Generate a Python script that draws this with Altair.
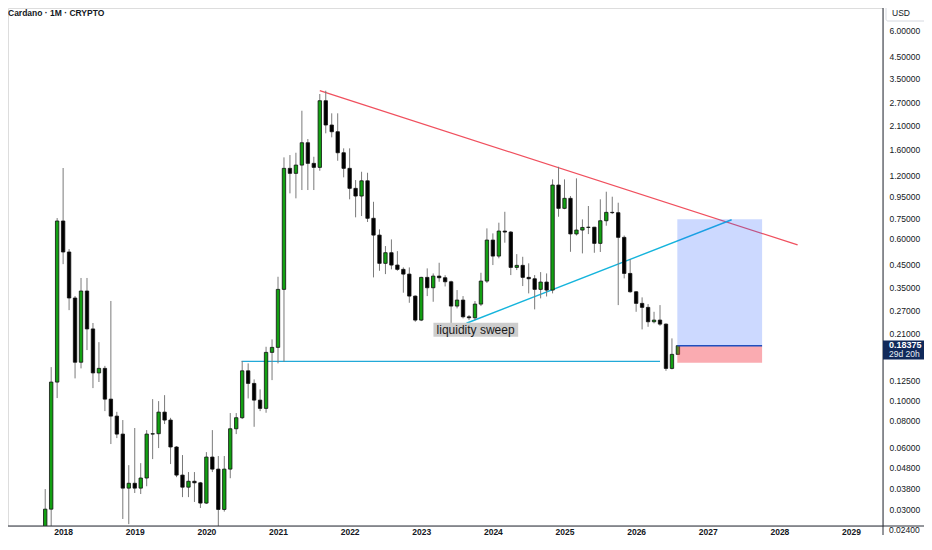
import altair as alt
import pandas as pd

# ---------------- data (monthly candles, first candle Oct 2017) ----------------
first_month = "2017-10-01"
opens = [0.0230, 0.0302, 0.1229, 0.728, 0.517, 0.311, 0.153, 0.336, 0.221, 0.136,
         0.143, 0.1018, 0.0844, 0.0692, 0.0381, 0.0402, 0.0381, 0.0426, 0.0692, 0.0695,
         0.0882, 0.0808, 0.0600, 0.0440, 0.0385, 0.0411, 0.0404, 0.0323, 0.0537, 0.0470,
         0.0301, 0.0470, 0.0734, 0.0829, 0.1392, 0.1211, 0.1007, 0.0919, 0.1706, 0.1803,
         0.3421, 1.302, 1.232, 1.350, 1.728, 1.376, 1.316, 2.748, 2.101, 1.951,
         1.547, 1.302, 1.044, 0.959, 1.135, 0.750, 0.623, 0.456, 0.513, 0.4475,
         0.4267, 0.405, 0.3177, 0.2437, 0.3906, 0.3483, 0.3962, 0.389, 0.3721, 0.2845,
         0.304, 0.2527, 0.250, 0.2908, 0.375, 0.5898, 0.4942, 0.6515, 0.6443, 0.436,
         0.446, 0.3906, 0.3847, 0.3421, 0.3709, 0.3395, 1.083, 0.837, 0.935, 0.631,
         0.6587, 0.678, 0.680, 0.5686, 0.730, 0.801, 0.798, 0.6076, 0.408, 0.3332,
         0.2931, 0.2804, 0.2392, 0.2437, 0.2331, 0.1429, 0.1669]
highs = [0.0377, 0.145, 0.752, 1.307, 0.534, 0.318, 0.388, 0.388, 0.236, 0.191,
         0.147, 0.301, 0.0885, 0.0808, 0.0491, 0.0740, 0.0502, 0.0723, 0.1018, 0.0996,
         0.1064, 0.0828, 0.0606, 0.0549, 0.0455, 0.0455, 0.0408, 0.0567, 0.0723, 0.0543,
         0.0543, 0.0873, 0.0873, 0.155, 0.1511, 0.1266, 0.1134, 0.1815, 0.1969, 0.3933,
         1.470, 1.508, 1.547, 2.460, 1.80, 1.480, 2.959, 3.069, 2.391, 2.391,
         1.624, 1.624, 1.144, 1.254, 1.240, 0.900, 0.664, 0.552, 0.594, 0.522,
         0.436, 0.436, 0.320, 0.393, 0.4314, 0.408, 0.459, 0.400, 0.3766, 0.3395,
         0.3177, 0.2576, 0.3007, 0.411, 0.671, 0.635, 0.7145, 0.806, 0.6515, 0.505,
         0.4903, 0.456, 0.4006, 0.4141, 0.408, 1.153, 1.325, 1.153, 0.959, 1.166,
         0.741, 0.859, 0.682, 0.925, 1.006, 0.952, 0.891, 0.620, 0.4766, 0.336,
         0.3132, 0.2908, 0.2671, 0.2876, 0.235, 0.1991, 0.1850]
lows = [0.0200, 0.0238, 0.103, 0.452, 0.272, 0.128, 0.143, 0.175, 0.115, 0.123,
        0.0892, 0.0620, 0.0662, 0.0271, 0.0256, 0.0361, 0.0357, 0.0389, 0.0525, 0.0593,
        0.0773, 0.0497, 0.0430, 0.0345, 0.0345, 0.0327, 0.0306, 0.0320, 0.0455, 0.0243,
        0.0294, 0.0425, 0.0692, 0.0817, 0.1026, 0.0750, 0.0892, 0.0876, 0.1256, 0.1511,
        0.1538, 0.988, 0.935, 1.025, 1.025, 1.025, 1.268, 1.917, 1.834, 1.416,
        1.179, 0.925, 0.758, 0.769, 0.720, 0.3906, 0.420, 0.405, 0.4267, 0.420,
        0.3297, 0.295, 0.2392, 0.241, 0.3177, 0.2984, 0.3721, 0.3533, 0.235, 0.2773,
        0.2483, 0.2437, 0.2437, 0.2845, 0.367, 0.4475, 0.482, 0.5728, 0.4006, 0.4234,
        0.3549, 0.3273, 0.2743, 0.3097, 0.3163, 0.3273, 0.763, 0.829, 0.518, 0.620,
        0.509, 0.630, 0.5126, 0.517, 0.691, 0.786, 0.2876, 0.3863, 0.3297, 0.2671,
        0.2199, 0.2263, 0.235, 0.2288, 0.1392, 0.1414, 0.1660]
closes = [0.0302, 0.1229, 0.728, 0.517, 0.311, 0.153, 0.336, 0.221, 0.136, 0.143,
          0.1018, 0.0844, 0.0692, 0.0381, 0.0402, 0.0381, 0.0426, 0.0692, 0.0695, 0.0882,
          0.0808, 0.0600, 0.0440, 0.0385, 0.0411, 0.0404, 0.0323, 0.0537, 0.0470, 0.0301,
          0.0470, 0.0734, 0.0829, 0.1392, 0.1211, 0.1007, 0.0919, 0.1706, 0.1803, 0.3421,
          1.302, 1.232, 1.350, 1.728, 1.376, 1.316, 2.748, 2.101, 1.951, 1.547,
          1.302, 1.044, 0.959, 1.135, 0.750, 0.623, 0.456, 0.513, 0.4475, 0.4267,
          0.405, 0.3177, 0.2437, 0.3906, 0.3483, 0.3962, 0.389, 0.3721, 0.2845, 0.304,
          0.2527, 0.250, 0.2908, 0.375, 0.5898, 0.4942, 0.6515, 0.6443, 0.436, 0.446,
          0.3906, 0.3847, 0.3421, 0.3709, 0.3395, 1.083, 0.837, 0.935, 0.631, 0.6587,
          0.678, 0.680, 0.5686, 0.730, 0.801, 0.798, 0.6076, 0.408, 0.3332, 0.2931,
          0.2804, 0.2392, 0.2437, 0.2331, 0.1429, 0.1669, 0.18375]

price_ticks = [0.03, 0.038, 0.048, 0.06, 0.08, 0.1, 0.125, 0.21, 0.27, 0.35,
               0.45, 0.6, 0.75, 0.95, 1.2, 1.6, 2.1, 2.7, 3.5, 4.5, 6.0]
bottom_tick = 0.024
year_ticks = list(range(0, 133, 12))  # months since Jan 2018

# drawings (month index since Jan 2018, price)
resist_t = [43.0, 123.05]
resist_p = [3.07, 0.559]
support_t = [67.57, 112.0]
support_p = [0.2353, 0.738]
level_t = [29.9, 100.0]
level_p = [0.1546, 0.1546]
pos_t0, pos_t1 = 102.9, 117.1
pos_target, pos_entry, pos_stop = 0.742, 0.18375, 0.1522
note_text = "liquidity sweep"
note_t, note_p = 69.1, 0.2196
note_box_t = [62.04, 76.24]
note_box_p = [0.2368, 0.2029]
last_price = 0.18375

# ---------------- build ----------------
dates = pd.date_range(first_month, periods=len(opens), freq="MS")
df = pd.DataFrame({
    "t": [(d.year - 2018) * 12 + d.month - 1 for d in dates],
    "open": opens, "high": highs, "low": lows, "close": closes,
})
df["col"] = ["#12a012" if c >= o else "#000000" for o, c in zip(opens, closes)]

FONT = "Liberation Sans"
W, H = 875, 518
xs = alt.Scale(domain=[-8.397, 136.52], nice=False, zero=False)
ys = alt.Scale(type="log", domain=[0.025077, 7.651], nice=False)
x_axis = alt.Axis(values=year_ticks, labelExpr="'' + (2018 + datum.value / 12)",
                  title=None, grid=False, domain=False, ticks=False, tickSize=0,
                  labelPadding=1, labelFontSize=8.5, labelFontWeight="bold",
                  labelColor="#131722", labelFont=FONT, labelOverlap=False,
                  labelFlush=False, labelAlign="center")
y_axis = alt.Axis(orient="right", values=price_ticks, format=".5f", title=None,
                  grid=False, domain=False, ticks=False, tickSize=0, labelPadding=6,
                  labelFontSize=8.5, labelColor="#131722", labelFont=FONT,
                  labelOverlap=False, labelFlush=False)


def X(f):
    return alt.X(f, type="quantitative", scale=xs, axis=x_axis)


def Y(f):
    return alt.Y(f, type="quantitative", scale=ys, axis=y_axis)


base = alt.Chart(df)
wicks = base.mark_rule(color="#7a7a7a", strokeWidth=1, clip=True).encode(
    x=X("t"), y=Y("low"), y2="high")
bodies = base.mark_bar(size=3.4, stroke="#111111", strokeWidth=0.8, clip=True).encode(
    x=X("t"), y=Y("open"), y2="close", color=alt.Color("col:N", scale=None))

level = alt.Chart(pd.DataFrame({"t": level_t, "p": level_p})).mark_line(
    color="#22a9d8", strokeWidth=1.2).encode(x=X("t"), y=Y("p"))
resist = alt.Chart(pd.DataFrame({"t": resist_t, "p": resist_p})).mark_line(
    color="#f0505e", strokeWidth=1.3).encode(x=X("t"), y=Y("p"))
support = alt.Chart(pd.DataFrame({"t": support_t, "p": support_p})).mark_line(
    color="#15b4dc", strokeWidth=1.4).encode(x=X("t"), y=Y("p"))

pos_df = pd.DataFrame({"t0": [pos_t0, pos_t0], "t1": [pos_t1, pos_t1],
                       "a": [pos_target, pos_entry], "b": [pos_entry, pos_stop],
                       "c": ["#2962ff", "#f23645"], "o": [0.24, 0.42]})
pos_box = alt.Chart(pos_df).mark_rect().encode(
    x=X("t0"), x2="t1", y=Y("a"), y2="b",
    color=alt.Color("c:N", scale=None), opacity=alt.Opacity("o:Q", scale=None))
entry = alt.Chart(pd.DataFrame({"t0": [pos_t0], "t1": [pos_t1], "p": [pos_entry]})).mark_rule(
    color="#1f4fbf", strokeWidth=1.5).encode(x=X("t0"), x2="t1", y=Y("p"))

note_box = alt.Chart(pd.DataFrame({"t0": [note_box_t[0]], "t1": [note_box_t[1]],
                                   "a": [note_box_p[0]], "b": [note_box_p[1]]})).mark_rect(
    color="#cdcdcd").encode(x=X("t0"), x2="t1", y=Y("a"), y2="b")
note = alt.Chart(pd.DataFrame({"t": [note_t], "p": [note_p], "s": [note_text]})).mark_text(
    font=FONT, fontSize=12, color="#1a1a1a", align="center", baseline="middle").encode(
    x=X("t"), y=Y("p"), text="s:N")

# lowest price label sits just below the time axis line, as in the reference
low_lab = alt.Chart(pd.DataFrame({"p": [bottom_tick], "s": [f"{bottom_tick:.5f}"]})).mark_text(
    font=FONT, fontSize=8.5, color="#131722", align="left", baseline="middle").encode(
    x=alt.value(W + 6), y=Y("p"), text="s:N")

frame = alt.Chart(pd.DataFrame({"k": [0]}))
vline = frame.mark_rule(color="#2a2e39", strokeWidth=1).encode(
    x=alt.value(W), y=alt.value(-10), y2=alt.value(H + 20))
hline = frame.mark_rule(color="#2a2e39", strokeWidth=1).encode(
    x=alt.value(-10), x2=alt.value(930), y=alt.value(H))

title = frame.mark_text(text="Cardano · 1M · CRYPTO", font=FONT, fontSize=8.5,
                        fontWeight="bold", color="#131722", align="left",
                        baseline="middle").encode(x=alt.value(0), y=alt.value(5))
usd_box = frame.mark_rect(fill="white", stroke="#d6d9e0", strokeWidth=1,
                          cornerRadius=2).encode(
    x=alt.value(878), x2=alt.value(920), y=alt.value(-6), y2=alt.value(13))
usd = frame.mark_text(text="USD", font=FONT, fontSize=8.5, color="#131722",
                      align="left", baseline="middle").encode(
    x=alt.value(884), y=alt.value(5))

lp = pd.DataFrame({"p": [last_price], "s": [f"{last_price:.5f}"], "r": ["29d 20h"]})
lp_box = frame.mark_rect(fill="#10295a").encode(
    x=alt.value(W), x2=alt.value(922), y=alt.value(332.5), y2=alt.value(351.5))
lp_txt = alt.Chart(lp).mark_text(font=FONT, fontSize=9, fontWeight="bold", color="white",
                                 align="left", baseline="middle", dy=-0.5).encode(
    x=alt.value(W + 6), y=Y("p"), text="s:N")
lp_rem = alt.Chart(lp).mark_text(font=FONT, fontSize=8.5, color="#e6ecf5",
                                 align="left", baseline="middle", dy=8).encode(
    x=alt.value(W + 6), y=Y("p"), text="r:N")

chart = alt.layer(
    level, resist, support, wicks, bodies, pos_box, entry, note_box, note,
    vline, hline, low_lab, title, usd_box, usd, lp_box, lp_txt, lp_rem,
).properties(
    width=W, height=H,
    autosize=alt.AutoSizeParams(type="none"),
    padding={"left": 0, "top": 0, "right": 41, "bottom": 9},
    background="white",
).configure_view(stroke=None).configure(font=FONT)

chart.save("out.html", embed_options={"renderer": "svg", "actions": False})
